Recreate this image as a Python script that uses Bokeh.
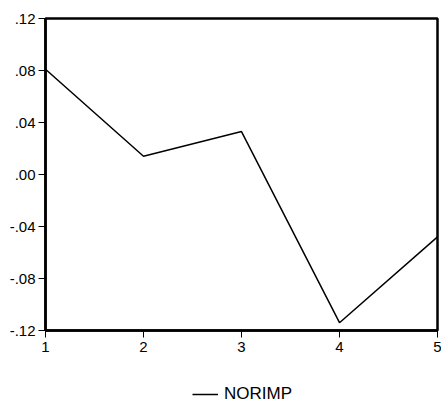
from bokeh.plotting import figure
from bokeh.layouts import column
from bokeh.models import Range1d, FixedTicker, Legend, LegendItem
from bokeh.embed import file_html
from bokeh.resources import INLINE

periods = [1, 2, 3, 4, 5]
norimp = [0.081, 0.014, 0.033, -0.114, -0.048]
y_ticks = [-0.12, -0.08, -0.04, 0.0, 0.04, 0.08, 0.12]
y_tick_labels = ["-.12", "-.08", "-.04", ".00", ".04", ".08", ".12"]
series_name = "NORIMP"

FONT = "Liberation Sans"
Y_MIN, Y_MAX = -0.12, 0.12

p = figure(width=441, height=365, frame_width=392, frame_height=312,
           output_backend="svg", toolbar_location=None,
           x_range=Range1d(1, 5), y_range=Range1d(Y_MIN, Y_MAX))
p.min_border_left = 45
p.min_border_right = 4
p.min_border_top = 18
p.min_border_bottom = 35
p.background_fill_color = "white"
p.border_fill_color = "white"
p.outline_line_color = "black"
p.outline_line_width = 2.5
p.grid.visible = False

r = p.line(periods, norimp, line_color="black", line_width=1.5)

p.xaxis.ticker = FixedTicker(ticks=periods)
p.yaxis.ticker = FixedTicker(ticks=y_ticks)
p.yaxis.major_label_overrides = {v: t for v, t in zip(y_ticks, y_tick_labels)}
for ax in (p.xaxis[0], p.yaxis[0]):
    ax.axis_line_color = "black"
    ax.axis_line_width = 2.5
    ax.major_tick_line_color = "black"
    ax.major_tick_in = 0
    ax.major_tick_out = 7
    ax.minor_tick_line_color = None
    ax.major_label_text_font = FONT
    ax.major_label_text_font_size = "15px"
    ax.major_label_text_color = "black"
p.xaxis.major_label_standoff = 4
p.yaxis.major_label_standoff = 3

# legend strip beneath the chart (its line sits outside the strip's view)
leg = figure(width=441, height=39, output_backend="svg", toolbar_location=None,
             x_axis_location=None, y_axis_location=None,
             x_range=Range1d(10, 11), y_range=Range1d(10, 11))
leg.min_border = 0
leg.outline_line_color = None
leg.grid.visible = False
leg.background_fill_color = "white"
leg.border_fill_color = "white"
lr = leg.line(periods, norimp, line_color="black", line_width=1.5)
legend = Legend(items=[LegendItem(label=series_name, renderers=[lr])],
                location=(147, 0), orientation="horizontal",
                border_line_color=None, background_fill_alpha=0,
                label_text_font=FONT, label_text_font_size="17px",
                label_text_color="black",
                glyph_width=26, glyph_height=20, margin=0, padding=0,
                label_standoff=6)
leg.add_layout(legend, "center")

layout = column(p, leg, spacing=0)
open("out.html", "w").write(file_html(layout, INLINE))
